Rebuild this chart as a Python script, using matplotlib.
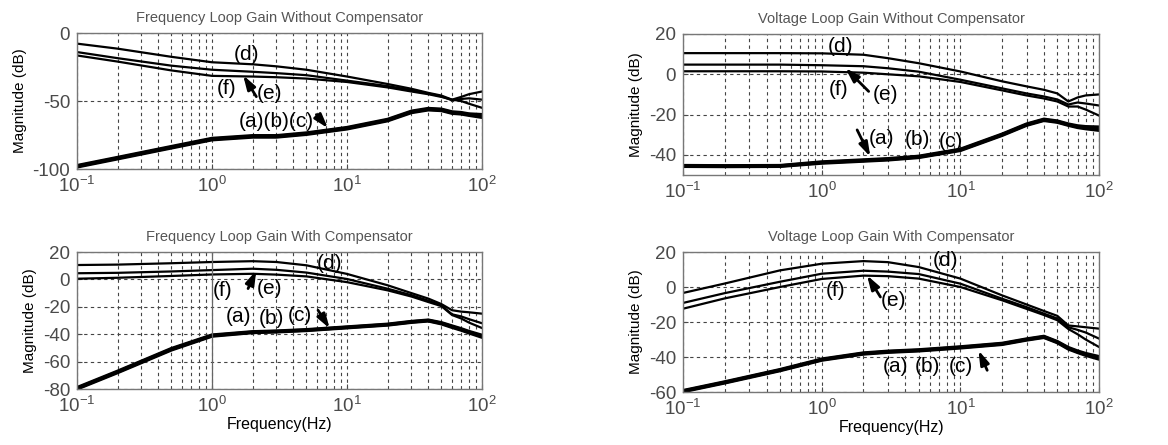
import numpy as np
import matplotlib
matplotlib.use("Agg")
import matplotlib.pyplot as plt

plt.rcParams['font.family'] = ['Liberation Sans', 'DejaVu Sans']
plt.rcParams['mathtext.fontset'] = 'custom'
plt.rcParams['mathtext.rm'] = 'Liberation Sans'
plt.rcParams['mathtext.it'] = 'Liberation Sans'
plt.rcParams['axes.unicode_minus'] = False

# frequency points (Hz) where the curves were read
freq = [0.1, 0.2, 0.5, 1, 2, 3, 5, 10, 20, 30, 40, 50, 60, 70, 80, 100]

# Frequency loop gain without compensator
fw_d = [-7.8, -11.5, -17.5, -21.5, -23, -24.5, -27, -32, -37.5, -41, -44, -46, -49, -47, -45, -43]
fw_e = [-14, -18.5, -24, -27, -28.5, -29.5, -31, -35, -39, -42, -44.5, -46.5, -49.5, -48.5, -48, -49]
fw_f = [-16.5, -21, -27.5, -31.5, -32, -32.5, -33.5, -36, -40, -43, -45, -47, -49, -50, -52, -55]
fw_a = [-98, -92, -84, -78, -76, -76, -74, -70, -64, -58, -56, -56.5, -58.5, -59, -60, -61]
fw_b = [-97.5, -91.5, -83.5, -77.5, -75.5, -75.5, -73.5, -69.5, -63.5, -57.5, -55.5, -56, -58, -58.5, -59.5, -60]
fw_c = [-98.5, -92.5, -84.5, -78.5, -76.5, -76.5, -74.5, -70.5, -64.5, -58.5, -56.5, -57, -59, -59.5, -60.5, -62]

# Voltage loop gain without compensator
vw_d = [10.5, 10.5, 10.5, 10.4, 9.7, 8, 5.5, 1.4, -3.5, -6, -7.7, -9.5, -13.5, -11.5, -10.5, -10]
vw_e = [4.8, 4.8, 4.8, 4.5, 4, 3, 1.3, -2.7, -7, -9.5, -11, -12.5, -15, -14, -14.5, -15.5]
vw_f = [1.5, 1.5, 1.5, 1.4, 0.8, 0, -1, -3.8, -8, -10.5, -12, -13.5, -16, -16, -17.5, -20.5]
vw_a = [-45.5, -45.6, -45.5, -43.8, -42.8, -42.2, -41, -37.5, -30, -25, -22.6, -23.5, -25, -26, -26.5, -27]
vw_b = [-45.3, -45.4, -45.3, -43.5, -42.5, -41.9, -40.7, -37.2, -29.7, -24.7, -22.3, -23.2, -24.7, -25.6, -26, -26.2]
vw_c = [-45.7, -45.8, -45.7, -44.1, -43.1, -42.5, -41.3, -37.8, -30.3, -25.3, -22.9, -23.8, -25.3, -26.4, -27, -27.8]

# Frequency loop gain with compensator
fc_d = [10.5, 10.8, 11.8, 12.7, 13.3, 12.7, 10.3, 4, -4.3, -10, -14, -18, -22.5, -23.5, -24, -25]
fc_e = [4.5, 4.8, 5.8, 6.8, 7.8, 7, 5, 0.3, -6.8, -11.5, -15.5, -19, -25.5, -27, -29, -32]
fc_f = [0.5, 1.2, 2.5, 3.6, 4.1, 3.5, 2.2, -2, -8, -12.5, -16.5, -19.5, -26, -28.5, -31.5, -35.5]
fc_a = [-79.5, -67.5, -51, -41, -38.5, -38, -37, -35, -33, -31, -30, -32, -34.5, -36.5, -38.5, -41.5]
fc_b = [-79, -67, -50.5, -40.6, -38.2, -37.7, -36.7, -34.7, -32.7, -30.7, -29.7, -31.6, -34, -36, -38, -40.8]
fc_c = [-80, -68, -51.5, -41.4, -38.8, -38.3, -37.3, -35.3, -33.3, -31.3, -30.3, -32.4, -35, -37, -39, -42.2]

# Voltage loop gain with compensator
vc_d = [-3.4, 2, 9.5, 13.3, 14.8, 14.2, 11.4, 4.8, -4.8, -10, -13.7, -16.5, -22, -22.5, -23, -23.8]
vc_e = [-9.1, -3.5, 3, 7.6, 9.3, 8.8, 7.4, 1.9, -6.7, -11.5, -15.2, -18, -23, -24.5, -26, -29.5]
vc_f = [-12.4, -6.5, 0, 4.6, 6.5, 6.2, 4.8, 0, -7.6, -12.5, -16, -19, -24, -27, -30, -34.3]
vc_a = [-59.5, -54.5, -47.5, -41.5, -38, -37, -36.2, -34.5, -32.5, -30, -28.5, -31.5, -35, -37, -38.5, -40.5]
vc_b = [-59.2, -54.2, -47.2, -41.2, -37.7, -36.7, -35.9, -34.2, -32.2, -29.7, -28.2, -31.2, -34.6, -36.6, -38, -39.8]
vc_c = [-59.8, -54.8, -47.8, -41.8, -38.3, -37.3, -36.5, -34.8, -32.8, -30.3, -28.8, -31.8, -35.4, -37.4, -39, -41.2]

gray = '#4a4a4a'
lab_fs = 15


def setup_axes(ax, title, ylim, yticks, xlabel=False):
    ax.set_xscale('log')
    ax.set_xlim(0.1, 100)
    ax.set_ylim(ylim)
    ax.set_yticks(yticks)
    ax.set_xticks([0.1, 1, 10, 100])
    ax.set_title(title, fontsize=10.5, color='#555555', pad=8)
    ax.set_ylabel('Magnitude (dB)', fontsize=11)
    if xlabel:
        ax.set_xlabel('Frequency(Hz)', fontsize=11.5, labelpad=1)
    ax.grid(True, which='both', axis='x', color='#444444', lw=0.8, ls=(0, (3, 3)))
    ax.grid(True, which='major', axis='y', color='#444444', lw=0.8, ls=(0, (3, 3)))
    ax.tick_params(axis='both', which='both', direction='in', labelsize=13.5,
                   labelcolor=gray, color=gray, pad=5)
    ax.tick_params(axis='x', which='minor', length=2)
    for s in ax.spines.values():
        s.set_color('#777777')
        s.set_linewidth(1.0)


def arrow(ax, tail, head):
    ax.annotate('', xy=head, xytext=tail,
                arrowprops=dict(arrowstyle='-|>,head_length=0.7,head_width=0.22',
                                color='k', lw=2.0, mutation_scale=12,
                                shrinkA=0, shrinkB=0))


def label(ax, x, y, s):
    ax.text(x, y, s, fontsize=lab_fs, ha='center', va='center')


fig = plt.figure(figsize=(11.68, 4.45), dpi=100)
ax1 = fig.add_axes([0.0659, 0.6202, 0.3468, 0.3056])
ax2 = fig.add_axes([0.5848, 0.6067, 0.3562, 0.3169])
ax3 = fig.add_axes([0.0659, 0.1258, 0.3468, 0.3079])
ax4 = fig.add_axes([0.5848, 0.1191, 0.3562, 0.3146])

# top left
for y in [fw_d, fw_e, fw_f]:
    ax1.plot(freq, y, color='k', lw=1.6)
for y in [fw_a, fw_b, fw_c]:
    ax1.plot(freq, y, color='k', lw=2.4)
setup_axes(ax1, 'Frequency Loop Gain Without Compensator', (-100, 0), [-100, -50, 0])
label(ax1, 1.8, -16, '(d)')
label(ax1, 1.28, -40.7, '(f)')
label(ax1, 2.67, -44.4, '(e)')
arrow(ax1, (2.13, -46.8), (1.70, -31))
label(ax1, 3.0, -65, '(a)(b)(c)')
arrow(ax1, (5.93, -60), (7.23, -70))

# top right
for y in [vw_d, vw_e, vw_f]:
    ax2.plot(freq, y, color='k', lw=1.6)
for y in [vw_a, vw_b, vw_c]:
    ax2.plot(freq, y, color='k', lw=2.4)
setup_axes(ax2, 'Voltage Loop Gain Without Compensator', (-50, 20), [-40, -20, 0, 20])
label(ax2, 1.36, 13.9, '(d)')
label(ax2, 1.33, -7.4, '(f)')
label(ax2, 2.88, -10.2, '(e)')
arrow(ax2, (2.18, -8.5), (1.48, 3.1))
label(ax2, 2.72, -31.7, '(a)')
label(ax2, 4.87, -32.2, '(b)')
label(ax2, 8.47, -33.4, '(c)')
arrow(ax2, (1.80, -27.6), (2.24, -40.9))

# bottom left
for y in [fc_d, fc_e, fc_f]:
    ax3.plot(freq, y, color='k', lw=1.6)
for y in [fc_a, fc_b, fc_c]:
    ax3.plot(freq, y, color='k', lw=2.4)
setup_axes(ax3, 'Frequency Loop Gain With Compensator', (-80, 20), [-80, -60, -40, -20, 0, 20], xlabel=True)
ax3.axvline(1, color='#666666', lw=0.9)
label(ax3, 7.44, 11.5, '(d)')
label(ax3, 1.19, -7.9, '(f)')
label(ax3, 2.67, -6.7, '(e)')
arrow(ax3, (1.85, -6.7), (2.13, 6.6))
label(ax3, 1.58, -27.3, '(a)')
label(ax3, 2.75, -28.5, '(b)')
label(ax3, 4.46, -26, '(c)')
arrow(ax3, (6.1, -22.5), (7.44, -35.8))

# bottom right
for y in [vc_d, vc_e, vc_f]:
    ax4.plot(freq, y, color='k', lw=1.6)
for y in [vc_a, vc_b, vc_c]:
    ax4.plot(freq, y, color='k', lw=2.4)
setup_axes(ax4, 'Voltage Loop Gain With Compensator', (-60, 20), [-60, -40, -20, 0, 20], xlabel=True)
label(ax4, 7.8, 15.2, '(d)')
label(ax4, 1.25, -1.9, '(f)')
label(ax4, 3.3, -7.6, '(e)')
arrow(ax4, (2.65, -5.7), (2.12, 6.7))
label(ax4, 3.4, -45.7, '(a)')
label(ax4, 5.75, -45.7, '(b)')
label(ax4, 10, -45.7, '(c)')
arrow(ax4, (15.6, -47.6), (13.5, -36.2))

fig.savefig('out.png', dpi=100)
